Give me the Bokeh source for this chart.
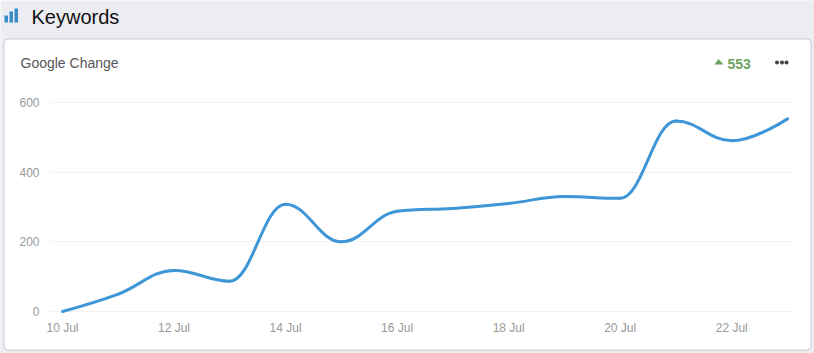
from bokeh.plotting import figure
from bokeh.embed import file_html
from bokeh.resources import INLINE
from bokeh.layouts import column
from bokeh.models import Range1d, BoxAnnotation, PolyAnnotation, Label, FixedTicker

days = [10, 11, 12, 13, 14, 15, 16, 17, 18, 19, 20, 21, 22, 23]
values = [0, 50, 118, 87, 308, 200, 288, 296, 310, 330, 325, 547, 490, 553]
x_tick_values = [10, 12, 14, 16, 18, 20, 22]
x_tick_labels = ["10 Jul", "12 Jul", "14 Jul", "16 Jul", "18 Jul", "20 Jul", "22 Jul"]
y_tick_values = [0, 200, 400, 600]
title_text = "Keywords"
chart_title = "Google Change"
change_text = "553"

BG = "#ebedf2"
BLUE = "#3e96d6"
GREEN = "#6aa35e"


def spline_controls(xs, ys, smoothing=1.5):
    n = len(xs)
    d = smoothing + 1
    left, right = [None] * n, [None] * n
    for i in range(n):
        x, y = xs[i], ys[i]
        if i == 0 or i == n - 1:
            left[i] = (x, y)
            right[i] = (x, y)
            continue
        lx, ly = xs[i - 1], ys[i - 1]
        nx, ny = xs[i + 1], ys[i + 1]
        lcx, lcy = (smoothing * x + lx) / d, (smoothing * y + ly) / d
        rcx, rcy = (smoothing * x + nx) / d, (smoothing * y + ny) / d
        corr = (rcy - lcy) * (rcx - x) / (rcx - lcx) + y - rcy
        lcy += corr
        rcy += corr
        if lcy > ly and lcy > y:
            lcy = max(ly, y)
            rcy = 2 * y - lcy
        elif lcy < ly and lcy < y:
            lcy = min(ly, y)
            rcy = 2 * y - lcy
        if rcy > ny and rcy > y:
            rcy = max(ny, y)
            lcy = 2 * y - rcy
        elif rcy < ny and rcy < y:
            rcy = min(ny, y)
            lcy = 2 * y - rcy
        left[i] = (lcx, lcy)
        right[i] = (rcx, rcy)
    return left, right


# backdrop figure: page colour, card, header texts and icons
bg = figure(width=814, height=353, output_backend="svg", toolbar_location=None,
            x_axis_location=None, y_axis_location=None,
            x_range=Range1d(0, 814), y_range=Range1d(0, 353), min_border=0, frame_align=False,
            background_fill_color=BG, border_fill_color=BG, outline_line_color=None)
bg.grid.visible = False

CANVAS = dict(left_units="canvas", right_units="canvas", top_units="canvas", bottom_units="canvas")


def box(l, r, t, b, color, line=None, radius=0):
    bg.add_layout(BoxAnnotation(left=l, right=r, top=t, bottom=b, **CANVAS,
                                fill_color=color, fill_alpha=1, line_color=line, line_width=1,
                                line_alpha=1, border_radius=radius))


def label(x, y, text, size, color, style="normal"):
    bg.add_layout(Label(x=x, y=y, x_units="canvas", y_units="canvas", text=text,
                        text_font="Liberation Sans", text_font_size=size, text_color=color,
                        text_font_style=style, text_baseline="middle", text_align="left"))


box(3.5, 810.5, 38.5, 349.5, "white", line="#c9cbd0", radius=4)
label(31, 16, title_text, "20px", "#111111")
label(20, 62, chart_title, "14px", "#555555")
label(727, 63, change_text, "14px", GREEN, "bold")
for l, r, t in [(4, 7.5, 15), (9, 12.5, 11), (14, 17.5, 8)]:
    box(l, r, t, 22, "#3a8cc8")
bg.add_layout(PolyAnnotation(xs=[714, 718, 723], ys=[64, 58.5, 64], xs_units="canvas", ys_units="canvas",
                             fill_color=GREEN, fill_alpha=1, line_color=None))
for cx in [776.5, 781.5, 786]:
    box(cx - 2, cx + 2, 60, 64, "#444444", radius=2)

# chart figure, transparent, on top of the backdrop
X_SCALE = 55.8
Y_SCALE = 209 / 600
p = figure(
    width=814, height=353, output_backend="svg", toolbar_location=None,
    x_range=Range1d(10 - 12 / X_SCALE, 23 + 7 / X_SCALE),
    y_range=Range1d(-4 / Y_SCALE, 600 + 7 / Y_SCALE),
    min_border_left=50, min_border_right=20, min_border_top=95, min_border_bottom=38,
    frame_align=False,
    border_fill_alpha=0, background_fill_alpha=0, outline_line_color=None,
)
p.margin = (-353, 0, 0, 0)

for ax in (p.xaxis[0], p.yaxis[0]):
    ax.axis_line_color = None
    ax.major_tick_line_color = None
    ax.minor_tick_line_color = None
    ax.major_label_text_font = "Liberation Sans"
    ax.major_label_text_font_size = "12px"
    ax.major_label_text_color = "#999999"

p.xaxis[0].ticker = FixedTicker(ticks=x_tick_values)
p.xaxis[0].major_label_overrides = dict(zip(x_tick_values, x_tick_labels))
p.xaxis[0].major_label_standoff = -1
p.yaxis[0].ticker = FixedTicker(ticks=y_tick_values)
p.yaxis[0].major_label_standoff = 5
p.xgrid.visible = False
p.ygrid[0].grid_line_color = "#f3f3f3"
p.ygrid[0].ticker = FixedTicker(ticks=y_tick_values)

left, right = spline_controls(days, values)
p.bezier(
    x0=days[:-1], y0=values[:-1], x1=days[1:], y1=values[1:],
    cx0=[c[0] for c in right[:-1]], cy0=[c[1] for c in right[:-1]],
    cx1=[c[0] for c in left[1:]], cy1=[c[1] for c in left[1:]],
    line_color=BLUE, line_width=3, line_cap="round",
)

page = column(bg, p, width=814, height=353, spacing=0,
              styles={"position": "absolute", "left": "0", "top": "0"})
open("out.html", "w").write(file_html(page, INLINE))
